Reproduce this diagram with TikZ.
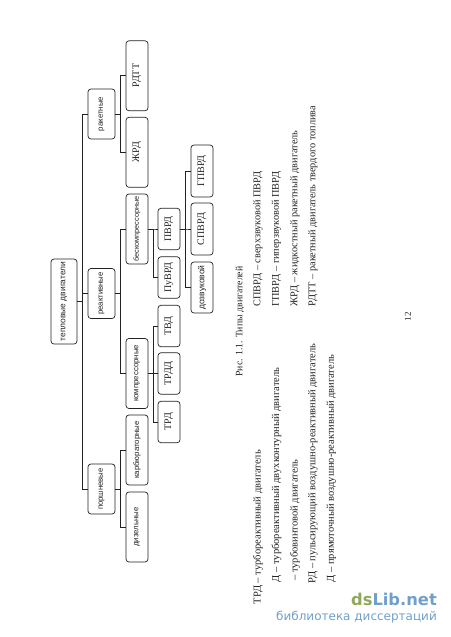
\documentclass[tikz,border=0pt]{standalone}
\usepackage{fontspec}
\setmainfont{Liberation Serif}
\setsansfont{Liberation Sans}
\newfontfamily\marksans{DejaVu Sans}
\definecolor{pgink}{HTML}{222222}
\definecolor{pggreen}{HTML}{8FA85A}
\definecolor{pgblue}{HTML}{6F9FCB}

\begin{document}
\begin{tikzpicture}[
  x=1pt,y=-1pt,
  font=\sffamily\fontsize{7.8}{9}\selectfont,
  block/.style={draw=pgink,line width=.7pt,rounded corners=3pt,rotate=90,text=pgink,inner sep=0pt,
    minimum height=22pt},
  link/.style={draw=pgink,line width=.8pt},
  abbr/.style={font=\rmfamily\fontsize{10}{11}\selectfont},
  line/.style={rotate=90,anchor=west,inner sep=0pt,text=pgink,font=\rmfamily\fontsize{10.3}{11}\selectfont},
  leftline/.style={line,font=\rmfamily\fontsize{10.5}{11}\selectfont}
]
  \path[use as bounding box] (0,0) rectangle (450,637);
  % chart
  \node[block,minimum width=85pt,minimum height=26pt,font=\sffamily\fontsize{8.4}{9}\selectfont] (root) at (64,301.5) {тепловые двигатели};
  \foreach \nm/\y/\lab in {rak/114/ракетные,rea/293.5/реактивные,por/489/поршневые}{
    \node[block,minimum width=50pt,minimum height=27pt] (\nm) at (101.5,\y) {\lab};
  }
  \foreach \nm/\y/\lab in {kom/373.5/компрессорные,kar/450/карбюраторные,diz/527/дизельные}{
    \node[block,minimum width=70pt] (\nm) at (137,\y) {\lab};
  }
  \node[block,minimum width=70pt,font=\sffamily\fontsize{7.3}{8}\selectfont] (bes) at (137,229) {бескомпрессорные};
  \node[block,abbr,minimum width=70pt] (rdtt) at (137,75.8) {РДТТ};
  \node[block,abbr,minimum width=70pt] (zrd) at (137,152.3) {ЖРД};
  \foreach \nm/\y/\lab in {pvrd/229/ПВРД,puvrd/277.5/ПуВРД,tvd/326/ТВД,trdd/373.5/ТРДД,trd/422/ТРД}{
    \node[block,abbr,minimum width=41.5pt] (\nm) at (169,\y) {\lab};
  }
  \node[block,abbr,minimum width=52pt] (gpvrd) at (202,171) {ГПВРД};
  \node[block,abbr,minimum width=52pt] (spvrd) at (202,229) {СПВРД};
  \node[block,minimum width=51pt,font=\sffamily\fontsize{8.5}{9}\selectfont] (doz) at (202,287.5) {дозвуковой};
  \foreach \a/\b in {root/rak,root/rea,root/por,rak/rdtt,rak/zrd,rea/bes,rea/kom,por/kar,por/diz,
                     bes/pvrd,bes/puvrd,kom/tvd,kom/trdd,kom/trd,pvrd/gpvrd,pvrd/spvrd,pvrd/doz}{
    \draw[link] (\a.south) -- ++(5.5,0) |- (\b.north);
  }
  % legend
  \node[line,font=\rmfamily\fontsize{9.8}{10}\selectfont] (cap) at (240,376.7) {Рис. 1.1. Типы двигателей};
  \node[leftline] (l1) at (258,604.5) {ТРД – турбореактивный двигатель};
  \begin{scope}
    \clip (265,300) rectangle (345,582);
    \node[leftline] (l2) at (276.5,582.5) {Д – турбореактивный двухконтурный двигатель};
    \node[leftline] (l3) at (295,581) {– турбовинтовой двигатель};
    \node[leftline] (l4) at (313,584) {РД – пульсирующий воздушно-реактивный двигатель};
    \node[leftline] (l5) at (331.5,582.5) {Д – прямоточный воздушно-реактивный двигатель};
  \end{scope}
  \node[line] (r1) at (258,306.7) {СПВРД – сверхзвуковой ПВРД};
  \node[line] (r2) at (276.5,306.7) {ГПВРД – гиперзвуковой ПВРД};
  \node[line] (r3) at (295,306.7) {ЖРД – жидкостный ракетный двигатель};
  \node[line] (r4) at (313,306.7) {РДТТ – ракетный двигатель твердого топлива};
  \node[rotate=90,text=pgink,font=\rmfamily\fontsize{9}{10}\selectfont] (page) at (408,316.7) {12};
  % watermark
  \node[anchor=base east,inner sep=0pt,font=\marksans\bfseries\fontsize{16.3}{17}\selectfont] (mark) at (437,605)
    {\textcolor{pggreen}{ds}\textcolor{pgblue}{Lib.net}};
  \node[anchor=base east,inner sep=0pt,text=pgblue,font=\marksans\fontsize{12}{12}\selectfont] (marksub) at (437,620)
    {библиотека диссертаций};
\end{tikzpicture}
\end{document}
